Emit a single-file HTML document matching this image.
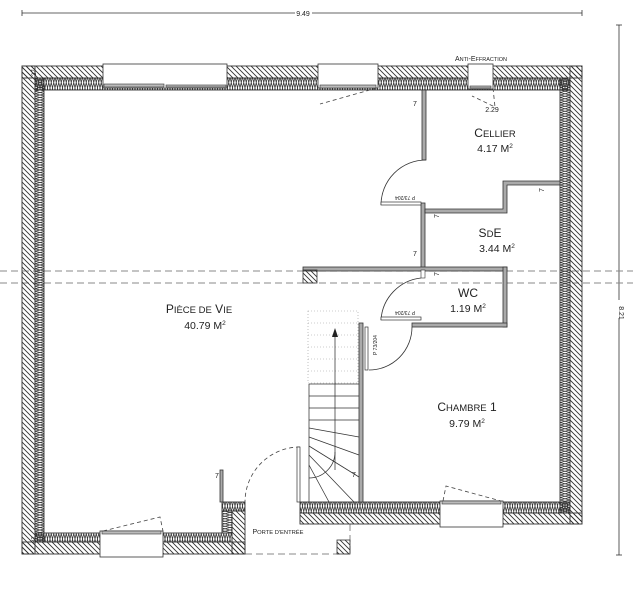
<!DOCTYPE html>
<html><head><meta charset="utf-8"><style>
html,body{margin:0;padding:0;background:#fff;}
svg{display:block;}
text{font-family:"Liberation Sans",sans-serif;fill:#222;}
</style></head><body>
<svg width="633" height="600" viewBox="0 0 633 600" xmlns="http://www.w3.org/2000/svg">
<defs>
<pattern id="h" patternUnits="userSpaceOnUse" width="5" height="5">
<path d="M-1,-1 L6,6 M-1,4 L1,6 M4,-1 L6,1" stroke="#333" stroke-width="0.9"/>
</pattern>
<pattern id="zh" patternUnits="userSpaceOnUse" width="5" height="11">
<path d="M0,0 L2.5,11 L5,0 M0,11 L2.5,0 L5,11" stroke="#333" stroke-width="0.75" fill="none"/>
</pattern>
<pattern id="zv" patternUnits="userSpaceOnUse" width="10" height="5">
<path d="M0,0 L10,2.5 L0,5 M10,0 L0,2.5 L10,5" stroke="#333" stroke-width="0.75" fill="none"/>
</pattern>
</defs>

<g stroke="#333" stroke-width="0.8">
<line x1="22" y1="13" x2="295" y2="13"/><line x1="312" y1="13" x2="582" y2="13"/>
<line x1="22" y1="10" x2="22" y2="16"/><line x1="582" y1="10" x2="582" y2="16"/>
<line x1="619" y1="25" x2="619" y2="300"/><line x1="619" y1="318" x2="619" y2="555"/>
<line x1="616" y1="25" x2="622" y2="25"/><line x1="616" y1="555" x2="622" y2="555"/>
</g>
<text x="303" y="16" font-size="7" text-anchor="middle">9.49</text>
<text x="622" y="310" font-size="7" text-anchor="middle" transform="rotate(90 619 310)">8.21</text>

<g stroke="#888" stroke-width="1" stroke-dasharray="7,4">
<line x1="0" y1="271" x2="633" y2="271"/>
<line x1="0" y1="283" x2="633" y2="283"/>
<line x1="245" y1="554" x2="350" y2="554"/>
<line x1="350" y1="524" x2="350" y2="554"/>
</g>
<rect x="337" y="540" width="13" height="14" fill="url(#h)" stroke="#333" stroke-width="0.8"/>

<g stroke="#333" stroke-width="0.9">
<rect x="22" y="66" width="560" height="12" fill="url(#h)"/>
<rect x="570" y="66" width="12" height="458" fill="url(#h)"/>
<rect x="22" y="66" width="13" height="488" fill="url(#h)"/>
<rect x="22" y="542" width="223" height="12" fill="url(#h)"/>
<rect x="232" y="511" width="13" height="43" fill="url(#h)"/>
<rect x="300" y="513" width="282" height="11" fill="url(#h)"/>
<rect x="35" y="78" width="535" height="12" fill="url(#zh)"/>
<rect x="560" y="78" width="10" height="435" fill="url(#zv)"/>
<rect x="35" y="78" width="9" height="464" fill="url(#zv)"/>
<rect x="35" y="533" width="197" height="9" fill="url(#zh)"/>
<rect x="222" y="502" width="23" height="9" fill="url(#zh)"/>
<rect x="222" y="511" width="10" height="22" fill="url(#zv)"/>
<rect x="300" y="502" width="270" height="11" fill="url(#zh)"/>
</g>

<g fill="#fff" stroke="#333" stroke-width="0.8">
<rect x="103" y="64" width="124" height="24"/>
<rect x="318" y="64" width="60" height="24"/>
<rect x="468" y="64" width="25" height="25"/>
<rect x="100" y="531" width="63" height="26"/>
<rect x="440" y="501" width="63" height="26"/>
</g>
<g fill="#bbb" stroke="#333" stroke-width="0.6">
<rect x="104" y="84" width="60" height="3"/><rect x="166" y="85" width="60" height="2"/>
<rect x="320" y="85" width="56" height="3"/>
<rect x="470" y="86" width="21" height="2"/>
<rect x="102" y="531" width="59" height="3"/>
<rect x="442" y="501" width="59" height="3"/>
</g>
<g stroke="#444" stroke-width="0.8" stroke-dasharray="4,3" fill="none">
<path d="M377,88 L320,104"/>
<path d="M493,88 L495,107 L472,96"/>
<path d="M103,531 L160,517 L163,531"/>
<path d="M443,501 L446,486 L501,501"/>
<path d="M300,447 A55,55 0 0 0 245,502"/>
</g>
<text x="481" y="61" font-size="7" text-anchor="middle">A<tspan font-size="5.5">NTI</tspan>-E<tspan font-size="5.5">FFRACTION</tspan></text>

<g fill="#aaa" stroke="#333" stroke-width="0.8">
<rect x="422" y="90" width="4" height="70"/>
<rect x="421" y="203" width="4" height="67"/>
<path d="M425,209 L503,209 L503,181 L560,181 L560,185 L507,185 L507,213 L425,213Z"/>
<rect x="303" y="267" width="204" height="4"/>
<rect x="503" y="267" width="4" height="60"/>
<rect x="412" y="323" width="95" height="4"/>
<rect x="359" y="323" width="4" height="179"/>
<rect x="220" y="470" width="3" height="32"/>
</g>
<rect x="303" y="270" width="14" height="13" fill="url(#h)" stroke="#333" stroke-width="0.8"/>
<rect x="421" y="270" width="4" height="8" fill="#fff" stroke="#333" stroke-width="0.6"/>

<g stroke="#333" stroke-width="0.8" fill="none">
<path d="M426,160 A45,45 0 0 0 381,205"/>
<path d="M421,278 A45,45 0 0 0 381,320"/>
<path d="M412,327 A43,43 0 0 1 369,370"/>
</g>
<g fill="#fff" stroke="#333" stroke-width="0.7">
<rect x="381" y="202" width="40" height="3"/>
<rect x="381" y="317" width="40" height="3"/>
<rect x="365" y="327" width="3" height="43"/>
<rect x="297" y="447" width="3" height="55"/>
</g>
<text x="405" y="200" font-size="5" text-anchor="middle" transform="rotate(180 405 198)">P 73/204</text>
<text x="405" y="315" font-size="5" text-anchor="middle" transform="rotate(180 405 313)">P 73/204</text>
<text x="377" y="345" font-size="5" text-anchor="middle" transform="rotate(-90 377 345)">P 73/204</text>

<g stroke="#999" stroke-width="0.6" stroke-dasharray="1,2" fill="none">
<rect x="308" y="311" width="50" height="72"/>
<line x1="308" y1="323" x2="358" y2="323"/><line x1="308" y1="335" x2="358" y2="335"/>
<line x1="308" y1="347" x2="358" y2="347"/><line x1="308" y1="359" x2="358" y2="359"/>
<line x1="308" y1="371" x2="358" y2="371"/>
</g>
<g stroke="#333" stroke-width="0.75" fill="none">
<line x1="309" y1="384" x2="309" y2="502"/>
<line x1="309" y1="384" x2="359" y2="384"/><line x1="309" y1="396" x2="359" y2="396"/>
<line x1="309" y1="408" x2="359" y2="408"/><line x1="309" y1="420" x2="359" y2="420"/>
<line x1="309" y1="428" x2="359" y2="437"/><line x1="309" y1="437" x2="359" y2="455"/>
<line x1="309" y1="446" x2="359" y2="477"/><line x1="309" y1="455" x2="354" y2="502"/>
<line x1="309" y1="465" x2="329" y2="502"/>
<line x1="335" y1="470" x2="335" y2="333"/>
<path d="M309,478 A26,26 0 0 0 335,452"/>
</g>
<path d="M335,328 L332,337 L338,337Z" fill="#222"/>

<g font-size="7">
<text x="413" y="106">7</text><text x="413" y="256">7</text>
<text x="215" y="478">7</text><text x="352" y="477">7</text>
<text x="538" y="192" transform="rotate(-90 541 189)">7</text>
<text x="433" y="218" transform="rotate(-90 436 215)">7</text>
<text x="433" y="276" transform="rotate(-90 436 273)">7</text>
<text x="34" y="78" font-size="6" transform="rotate(-90 34 76)">37</text>
<text x="34" y="545" font-size="6" transform="rotate(-90 34 543)">37</text>
<text x="492" y="112" text-anchor="middle" font-size="7">2.29</text>
</g>

<g font-size="12" text-anchor="middle">
<text x="199" y="313">P<tspan font-size="9.5">IÈCE DE</tspan> V<tspan font-size="9.5">IE</tspan></text>
<text x="205" y="329" font-size="10.5">40.79 M<tspan font-size="6.5" dy="-4">2</tspan></text>
<text x="495" y="137">C<tspan font-size="9.5">ELLIER</tspan></text>
<text x="495" y="152" font-size="10.5">4.17 M<tspan font-size="6.5" dy="-4">2</tspan></text>
<text x="490" y="237">S<tspan font-size="9.5">D</tspan>E</text>
<text x="497" y="252" font-size="10.5">3.44 M<tspan font-size="6.5" dy="-4">2</tspan></text>
<text x="468" y="297">WC</text>
<text x="468" y="312" font-size="10.5">1.19 M<tspan font-size="6.5" dy="-4">2</tspan></text>
<text x="467" y="411">C<tspan font-size="9.5">HAMBRE</tspan> 1</text>
<text x="467" y="427" font-size="10.5">9.79 M<tspan font-size="6.5" dy="-4">2</tspan></text>
<text x="278" y="534" font-size="7">P<tspan font-size="5.8">ORTE D'ENTRÉE</tspan></text>
</g>
</svg>
</body></html>
